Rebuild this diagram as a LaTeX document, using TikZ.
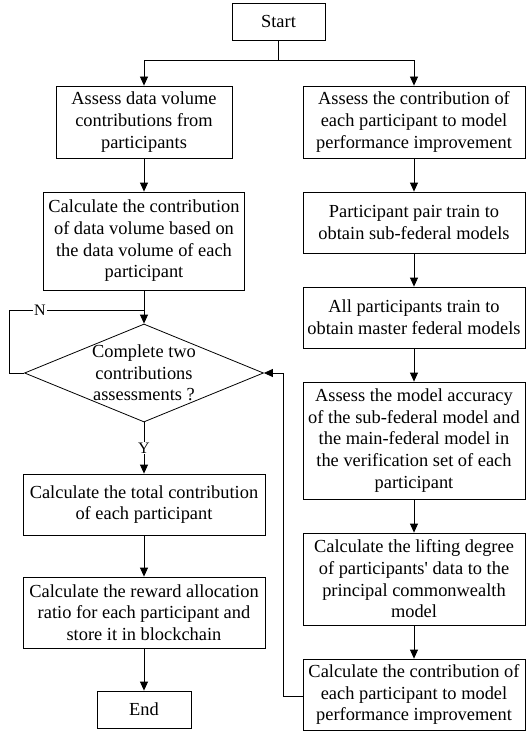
\documentclass[tikz,border=0pt]{standalone}
\usepackage{fontspec}
\newfontfamily\boxfont{Liberation Serif}
\usetikzlibrary{arrows.meta,shapes.geometric}
\begin{document}
\begin{tikzpicture}[x=1pt,y=-1pt,
  every node/.style={font=\boxfont\fontsize{18.4}{21.7}\selectfont},
  proc/.style={draw, line width=0.8pt, rectangle, align=center, inner sep=0pt, minimum width=#1},
  proc/.default=222pt,
  decision/.style={draw, line width=0.8pt, diamond, inner sep=0pt, minimum width=239pt, minimum height=98pt},
  plain/.style={align=center, inner sep=0pt},
  tag/.style={fill=white, inner sep=1pt},
  line/.style={line width=0.8pt},
  arr/.style={line width=0.8pt, -{Triangle[length=9pt,width=8pt]}}]
\useasboundingbox (0,0) rectangle (527,733);

% start and left-hand column
\node[proc=93pt, minimum height=37pt] (start) at (278.5,21.5) {Start};
\node[proc=176pt, minimum height=72pt] (l1) at (144,122) {Assess data volume\\contributions from\\participants};
\node[proc=201pt, minimum height=98pt] (l2) at (144,241) {Calculate the contribution\\of data volume based on\\the data volume of each\\participant};
\node[decision] (dec) at (144,373) {};
\node[plain] (dect) at (dec.center) {Complete two\\contributions\\assessments ?};
\node[proc=242pt, minimum height=61pt] (l3) at (144,504.5) {Calculate the total contribution\\of each participant};
\node[proc=242pt, minimum height=71pt] (l4) at (144,612.5) {Calculate the reward allocation\\ratio for each participant and\\store it in blockchain};
\node[proc=94pt, minimum height=37pt] (end) at (144,709.5) {End};

% right-hand column
\node[proc, minimum height=72pt] (r1) at (414,122) {Assess the contribution of\\each participant to model\\performance improvement};
\node[proc, minimum height=61pt] (r2) at (414,222.5) {Participant pair train to\\obtain sub-federal models};
\node[proc, minimum height=61pt] (r3) at (414,317.5) {All participants train to\\obtain master federal models};
\node[proc, minimum height=117pt] (r4) at (414,440.5) {Assess the model accuracy\\of the sub-federal model and\\the main-federal model in\\the verification set of each\\participant};
\node[proc, minimum height=92pt] (r5) at (414,579) {Calculate the lifting degree\\of participants' data to the\\principal commonwealth\\model};
\node[proc, minimum height=71pt] (r6) at (414,694.5) {Calculate the contribution of\\each participant to model\\performance improvement};

% split after start
\coordinate (split) at (start.south |- 0,60);
\draw[line] (start.south) -- (split);
\draw[arr] (split) -| (l1.north);
\draw[arr] (split) -| (r1.north);

% left flow
\draw[arr] (l1) -- (l2);
\draw[arr] (l2) -- (dec.north);
\coordinate (nbend) at (9,373);
\coordinate (njoin) at (144,310);
\draw[line] (dec.west) -- (nbend) |- (njoin);
\node[tag] (nlab) at (40,310) {\fontsize{16}{18}\selectfont N};
\draw[arr] (dec.south) -- (l3.north);
\node[tag] (ylab) at (144,448) {\fontsize{16}{18}\selectfont Y};
\draw[arr] (l3) -- (l4);
\draw[arr] (l4) -- (end);

% right flow
\draw[arr] (r1) -- (r2);
\draw[arr] (r2) -- (r3);
\draw[arr] (r3) -- (r4);
\draw[arr] (r4) -- (r5);
\draw[arr] (r5) -- (r6);

% feedback into the decision
\coordinate (fb) at (283,696);
\draw[arr] (r6.west |- fb) -- (fb) |- (dec.east);
\end{tikzpicture}
\end{document}
